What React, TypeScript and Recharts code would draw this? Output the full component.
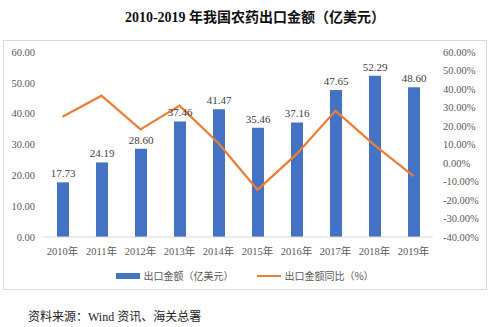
import { ComposedChart, Bar, Line, XAxis, YAxis, LabelList, Legend } from 'recharts';

const years = ['2010年', '2011年', '2012年', '2013年', '2014年', '2015年', '2016年', '2017年', '2018年', '2019年'];
const exportValue = [17.73, 24.19, 28.6, 37.46, 41.47, 35.46, 37.16, 47.65, 52.29, 48.6];
const exportYoY = [25.0, 36.4, 18.2, 31.0, 10.7, -14.5, 4.8, 28.2, 9.7, -7.1];
const leftTicks = [0, 10, 20, 30, 40, 50, 60];
const rightTicks = [-40, -30, -20, -10, 0, 10, 20, 30, 40, 50, 60];

const data = years.map((year, i) => ({ year, value: exportValue[i], yoy: exportYoY[i] }));

const BLUE = '#4472C4';
const ORANGE = '#ED7D31';
const SERIF = '"Liberation Serif", "Noto Sans CJK SC", serif';
const tick = { fill: '#595959', fontSize: 10.5, fontFamily: SERIF };

function LegendBox() {
  const text = { fontSize: 10, color: '#595959', fontFamily: '"Noto Sans CJK SC", sans-serif' };
  return (
    <div style={{ display: 'flex', justifyContent: 'center', alignItems: 'center', gap: 24 }}>
      <div style={{ display: 'flex', alignItems: 'center', gap: 3 }}>
        <span style={{ width: 24, height: 6, background: BLUE, display: 'inline-block' }} />
        <span style={text}>出口金额（亿美元）</span>
      </div>
      <div style={{ display: 'flex', alignItems: 'center', gap: 3 }}>
        <span style={{ width: 24, height: 2, background: ORANGE, display: 'inline-block' }} />
        <span style={text}>出口金额同比（%）</span>
      </div>
    </div>
  );
}

export default function App() {
  return (
    <div style={{ position: 'absolute', left: 0, top: 0, width: 500, height: 327, background: '#fff' }}>
      <div
        style={{
          position: 'absolute',
          top: 6,
          left: 0,
          width: 510,
          textAlign: 'center',
          fontFamily: SERIF,
          fontWeight: 'bold',
          fontSize: 14,
          color: '#111',
        }}
      >
        2010-2019 年我国农药出口金额（亿美元）
      </div>
      <div style={{ position: 'absolute', left: 3, top: 40, width: 484, height: 250, border: '1px solid #d9d9d9', boxSizing: 'border-box' }}>
        <ComposedChart width={482} height={248} data={data} margin={{ top: 11, right: 0, bottom: 6, left: 0 }}>
          <XAxis
            dataKey="year"
            tick={tick}
            tickLine={false}
            tickMargin={5}
            axisLine={{ stroke: '#d9d9d9' }}
            interval={0}
            height={31}
          />
          <YAxis
            yAxisId="left"
            domain={[0, 60]}
            ticks={leftTicks}
            tick={tick}
            tickFormatter={(v: number) => v.toFixed(2)}
            axisLine={false}
            tickLine={false}
            width={39}
          />
          <YAxis
            yAxisId="right"
            orientation="right"
            domain={[-40, 60]}
            ticks={rightTicks}
            tick={{ ...tick, textAnchor: 'start' }}
            tickFormatter={(v: number) => v.toFixed(2) + '%'}
            axisLine={false}
            tickLine={false}
            tickMargin={4}
            width={53}
          />
          <Bar yAxisId="left" dataKey="value" fill={BLUE} barSize={12} isAnimationActive={false}>
            <LabelList
              dataKey="value"
              position="top"
              formatter={(v: number) => v.toFixed(2)}
              style={{ fill: '#404040', fontSize: 11, fontFamily: SERIF }}
            />
          </Bar>
          <Line
            yAxisId="right"
            dataKey="yoy"
            stroke={ORANGE}
            strokeWidth={2.2}
            dot={false}
            isAnimationActive={false}
          />
          <Legend verticalAlign="bottom" content={() => <LegendBox />} />
        </ComposedChart>
      </div>
      <div style={{ position: 'absolute', left: 28, top: 307, fontFamily: SERIF, fontSize: 12, color: '#222' }}>
        资料来源：Wind 资讯、海关总署
      </div>
    </div>
  );
}
